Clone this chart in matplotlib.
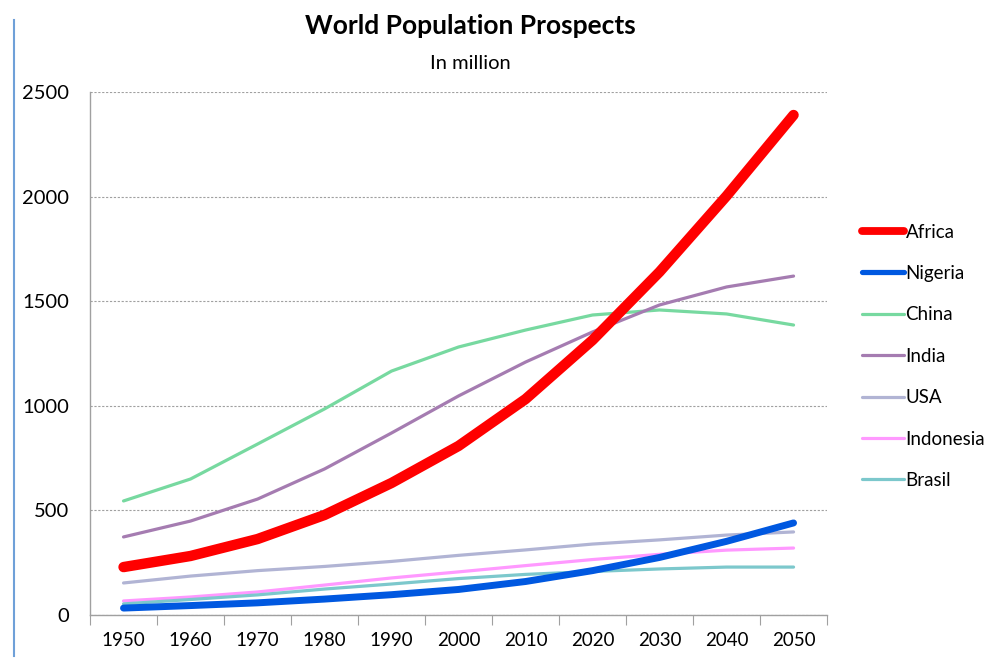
import numpy as np
import matplotlib.pyplot as plt
from matplotlib.lines import Line2D

years = [1950, 1960, 1970, 1980, 1990, 2000, 2010, 2020, 2030, 2040, 2050]
africa = [229, 282, 363, 478, 631, 808, 1032, 1314, 1640, 2003, 2390]
nigeria = [33, 45, 58, 76, 97, 122, 160, 212, 275, 352, 440]
china = [545, 650, 817, 985, 1166, 1281, 1362, 1434, 1458, 1439, 1386]
india = [373, 449, 554, 698, 870, 1047, 1209, 1353, 1482, 1568, 1620]
usa = [153, 186, 212, 232, 256, 285, 311, 339, 359, 382, 397]
indonesia = [67, 86, 110, 143, 177, 206, 236, 265, 290, 310, 320]
brasil = [53, 74, 96, 124, 148, 174, 194, 208, 220, 229, 229]

series = [
    ("Africa", africa, "#ff0000", 7.5),
    ("Nigeria", nigeria, "#0058e0", 5.0),
    ("China", china, "#77d9a0", 2.3),
    ("India", india, "#a57cb1", 2.3),
    ("USA", usa, "#b1b4d4", 2.3),
    ("Indonesia", indonesia, "#ff99ff", 2.3),
    ("Brasil", brasil, "#7cc8cc", 2.3),
]

plt.rcParams['font.family'] = ['Lato', 'DejaVu Sans']

fig = plt.figure(figsize=(10.07, 6.59), dpi=100)
ax = fig.add_axes([0.0894, 0.0668, 0.8213 - 0.0894, 0.8604 - 0.0668])

x = np.arange(len(years))
# thin lines first, thick ones on top
order = [2, 3, 4, 5, 6, 1, 0]
for i in order:
    name, vals, col, lw = series[i]
    ax.plot(x, vals, color=col, lw=lw, solid_capstyle='round', solid_joinstyle='round',
            label=name, zorder=3 + (lw > 3))

ax.set_xlim(-0.5, len(years) - 0.5)
ax.set_ylim(0, 2500)
ax.set_yticks(range(0, 2501, 500))
ax.yaxis.grid(True, linestyle=(0, (2, 1.5)), color='#a0a0a0', lw=0.8)
ax.set_axisbelow(True)

ax.set_xticks(np.arange(-0.5, len(years), 1.0))
ax.set_xticklabels([])
ax.set_xticks(x, minor=True)
ax.set_xticklabels([str(y) for y in years], minor=True)
ax.tick_params(axis='x', which='major', length=7, color='#a0a0a0', direction='out')
ax.tick_params(axis='x', which='minor', length=0, labelsize=13.5, pad=12)
ax.tick_params(axis='y', length=0, labelsize=14.5, pad=15)

for s in ['top', 'right']:
    ax.spines[s].set_visible(False)
for s in ['left', 'bottom']:
    ax.spines[s].set_color('#a0a0a0')
    ax.spines[s].set_linewidth(1.0)

fig.text(0.467, 0.960, "World Population Prospects", ha='center', va='center',
         fontsize=19, fontweight='bold')
fig.text(0.467, 0.903, "In million", ha='center', va='center', fontsize=14.5)

handles = [Line2D([0], [0], color=c, lw=lw if lw < 3 else lw * 0.75, solid_capstyle='round')
           for _, _, c, lw in series]
labels = [s[0] for s in series]
fig.legend(handles, labels, loc='upper left', bbox_to_anchor=(0.849, 0.672),
           frameon=False, fontsize=13.5, handlelength=2.2, handletextpad=0.1,
           labelspacing=1.3, borderaxespad=0)

# blue bar at left edge
fig.add_artist(Line2D([0.0139, 0.0139], [0.005, 0.97], color='#6fa0d8', lw=1.5))

fig.savefig("out.png", dpi=100)
